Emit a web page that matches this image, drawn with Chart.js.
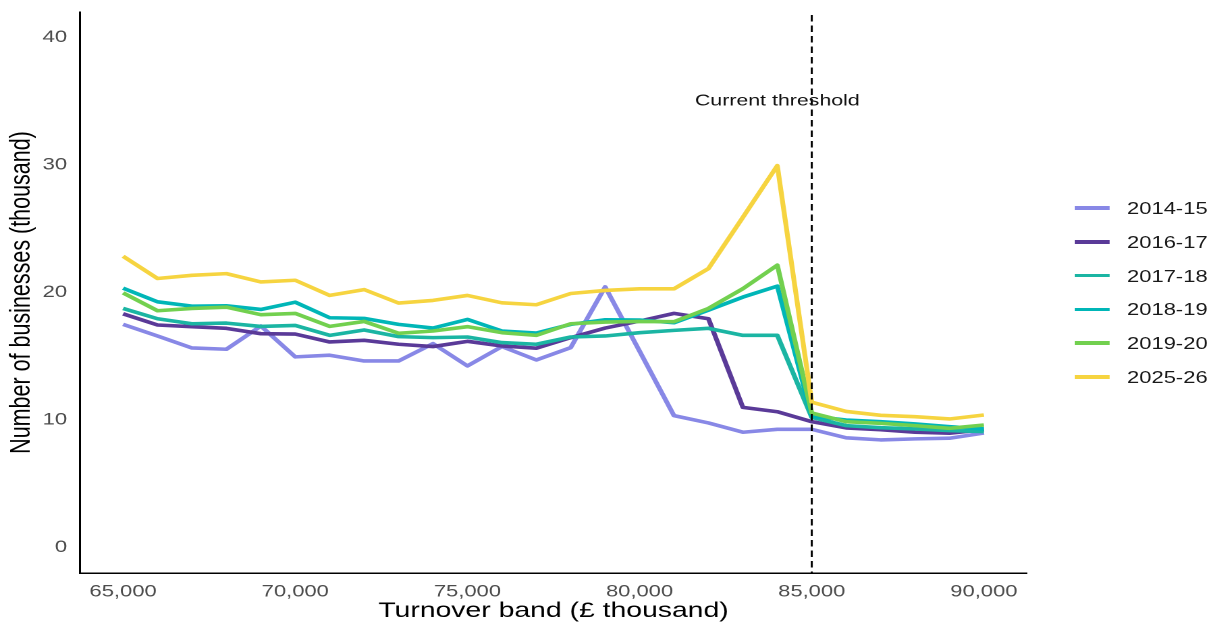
<!DOCTYPE html>
<html>
<head>
    <title>Businesses by turnover band</title>
    <script src="https://cdn.jsdelivr.net/npm/chart.js"></script>
    <style>
        body { margin: 0; background: #fff; overflow: hidden; }
        /* reference picture is stretched sideways, so draw narrow and scale */
        #wrap { position: absolute; left: 0; top: 0; width: 903px; height: 624px;
                transform: scaleX(1.35); transform-origin: 0 0; }
        #box { position: absolute; left: 0; top: 0; width: 903px; height: 624px; }
        #legend { position: absolute; left: 0; top: 0; font-family: "Liberation Sans", Arial, sans-serif;
                  font-size: 16.3px; color: #1a1a1a; }
        .item { position: absolute; height: 20px; line-height: 20px; white-space: nowrap; }
        .key { position: absolute; left: 795.6px; top: 8.2px; width: 26px; height: 3.6px; }
        .lab { position: absolute; left: 834.8px; top: 0; }
    </style>
</head>
<body>
<div id="wrap">
    <div id="box"><canvas id="myChart"></canvas></div>
    <div id="legend"></div>
</div>
<script>
    const bands = [65000, 66000, 67000, 68000, 69000, 70000, 71000, 72000, 73000, 74000, 75000, 76000, 77000,
                   78000, 79000, 80000, 81000, 82000, 83000, 84000, 85000, 86000, 87000, 88000, 89000, 90000];
    const years = ["2014-15", "2016-17", "2017-18", "2018-19", "2019-20", "2025-26"];
    const colours = ["#8888e6", "#5a3a98", "#1bb5a3", "#00b6b7", "#72d04f", "#f6d440"];

    const y2014 = [17.5, 16.59, 15.65, 15.55, 17.37, 14.95, 15.08, 14.63, 14.63, 15.99, 14.24, 15.76, 14.71,
                   15.68, 20.44, 15.4, 10.34, 9.77, 9.04, 9.27, 9.27, 8.6, 8.44, 8.52, 8.57, 8.98];
    const y2016 = [18.33, 17.45, 17.32, 17.19, 16.77, 16.74, 16.12, 16.25, 15.94, 15.76, 16.17, 15.81, 15.63,
                   16.46, 17.21, 17.76, 18.36, 17.94, 10.99, 10.65, 9.87, 9.38, 9.24, 9.04, 8.96, 9.24];
    const y2017 = [18.75, 17.94, 17.55, 17.6, 17.34, 17.42, 16.64, 17.06, 16.54, 16.46, 16.51, 16.07, 15.94,
                   16.51, 16.59, 16.85, 17.03, 17.19, 16.64, 16.64, 10.2, 9.56, 9.4, 9.3, 9.17, 9.09];
    const y2018 = [20.34, 19.27, 18.93, 18.96, 18.67, 19.24, 18.02, 17.97, 17.5, 17.21, 17.89, 16.98, 16.82,
                   17.5, 17.86, 17.84, 17.63, 18.62, 19.64, 20.5, 10.3, 10.0, 9.87, 9.69, 9.48, 9.3];
    const y2019 = [19.97, 18.57, 18.75, 18.85, 18.26, 18.36, 17.34, 17.73, 16.8, 16.98, 17.32, 16.85, 16.64,
                   17.55, 17.68, 17.73, 17.71, 18.75, 20.3, 22.14, 10.55, 9.87, 9.74, 9.56, 9.35, 9.61];
    const y2025 = [22.84, 21.1, 21.35, 21.48, 20.83, 20.96, 19.77, 20.23, 19.17, 19.38, 19.77, 19.19, 19.04,
                   19.92, 20.16, 20.29, 20.29, 21.88, 25.9, 29.95, 11.4, 10.67, 10.37, 10.26, 10.08, 10.39];
    const series = [y2014, y2016, y2017, y2018, y2019, y2025];

    const xTicks = [65000, 70000, 75000, 80000, 85000, 90000];
    const yTicks = [0, 10, 20, 30, 40];
    const threshold = 85000;
    const noteX = 84000, noteY = 35;

    const FONT = "'Liberation Sans', Arial, sans-serif";

    // dashed threshold line + its label
    const thresholdPlugin = {
        id: "threshold",
        afterDatasetsDraw(chart) {
            const ctx = chart.ctx, a = chart.chartArea;
            const xs = chart.scales.x, ys = chart.scales.y;
            const px = xs.getPixelForValue(threshold);
            ctx.save();
            ctx.strokeStyle = "#000";
            ctx.lineWidth = 1.5;
            ctx.setLineDash([6.5, 4]);
            ctx.beginPath();
            ctx.moveTo(px, a.top + 3);
            ctx.lineTo(px, a.bottom);
            ctx.stroke();
            ctx.setLineDash([]);
            ctx.fillStyle = "#111";
            ctx.font = "15.8px " + FONT;
            ctx.textAlign = "center";
            ctx.textBaseline = "middle";
            ctx.fillText("Current threshold", xs.getPixelForValue(noteX), ys.getPixelForValue(noteY));
            ctx.restore();
        }
    };

    const datasets = series.map((vals, i) => ({
        label: years[i],
        data: vals.map((v, j) => ({ x: bands[j], y: v })),
        borderColor: colours[i],
        backgroundColor: colours[i],
        borderWidth: 3.6,
        borderJoinStyle: "round",
        pointRadius: 0,
        tension: 0,
        order: -i
    }));

    const ctx = document.getElementById("myChart");
    const mychart = new Chart(ctx, {
        type: "line",
        data: { datasets: datasets },
        options: {
            responsive: true,
            maintainAspectRatio: false,
            animation: false,
            devicePixelRatio: 2,
            layout: { padding: { top: 12, right: 142.3, left: 0, bottom: 0 } },
            plugins: { legend: { display: false }, tooltip: { enabled: false } },
            scales: {
                x: {
                    type: "linear",
                    min: 63750,
                    max: 91250,
                    grid: { display: false, drawTicks: false },
                    border: { display: true, color: "#000", width: 1.5 },
                    afterBuildTicks: (s) => { s.ticks = xTicks.map(v => ({ value: v })); },
                    afterFit: (s) => { s.height = 51; s.paddingLeft = 0; s.paddingRight = 0; },
                    ticks: {
                        padding: 9,
                        color: "#4d4d4d",
                        font: { family: FONT, size: 16.3 },
                        maxRotation: 0,
                        callback: (v) => Number(v).toLocaleString("en-US")
                    },
                    title: {
                        display: true,
                        text: "Turnover band (£ thousand)",
                        color: "#000",
                        font: { family: FONT, size: 21 },
                        padding: { top: 0, bottom: 0 }
                    }
                },
                y: {
                    type: "linear",
                    min: -2,
                    max: 42,
                    grid: { display: false, drawTicks: false },
                    border: { display: true, color: "#000", width: 1.5 },
                    afterBuildTicks: (s) => { s.ticks = yTicks.map(v => ({ value: v })); },
                    afterFit: (s) => { s.width = 59.3; s.paddingTop = 0; s.paddingBottom = 0; },
                    ticks: {
                        padding: 9.5,
                        color: "#4d4d4d",
                        font: { family: FONT, size: 16.5 }
                    },
                    title: {
                        display: true,
                        text: "Number of businesses (thousand)",
                        color: "#000",
                        font: { family: FONT, size: 21.5 },
                        padding: { top: 3, bottom: 0 }
                    }
                }
            }
        },
        plugins: [thresholdPlugin]
    });

    // legend on the right
    const legend = document.getElementById("legend");
    years.forEach((y, i) => {
        const item = document.createElement("div");
        item.className = "item";
        item.style.top = (198.3 + i * 33.7) + "px";
        item.innerHTML = '<span class="key" style="background:' + colours[i] + '"></span><span class="lab">' + y + '</span>';
        legend.appendChild(item);
    });
</script>
</body>
</html>
